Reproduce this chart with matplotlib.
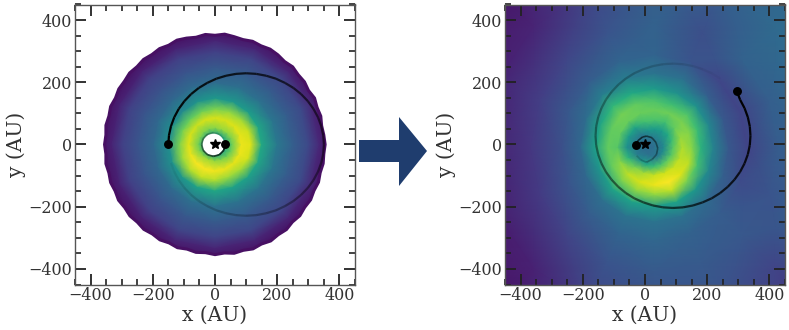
import numpy as np
import matplotlib
matplotlib.use("Agg")
import matplotlib.pyplot as plt
from matplotlib.collections import LineCollection
from matplotlib.patches import Polygon, Circle, PathPatch
from matplotlib.path import Path
from matplotlib.ticker import MultipleLocator

plt.rcParams['font.family'] = 'DejaVu Serif'

# Density on a polar table: rows by azimuth, columns by radius
azimuth_deg = [0,22.5,45,67.5,90,112.5,135,157.5,180,202.5,225,247.5,270,292.5,315,337.5]

left_center = (0, 0)
left_radii = [30,55,85,115,150,200,250,300,335,385]
left_density = [
 [.58,.78,.97,.95,.60,.40,.30,.22,.11,.02],
 [.58,.80,.96,.92,.59,.39,.29,.22,.11,.02],
 [.58,.83,.95,.86,.55,.37,.28,.21,.10,.02],
 [.58,.85,.94,.83,.53,.36,.28,.20,.10,.02],
 [.58,.83,.94,.80,.53,.35,.27,.19,.10,.02],
 [.58,.81,.94,.78,.51,.34,.26,.19,.09,.02],
 [.58,.81,.92,.76,.47,.33,.25,.19,.09,.02],
 [.58,.81,.94,.78,.49,.33,.26,.19,.09,.02],
 [.58,.79,.95,.80,.49,.33,.26,.19,.09,.02],
 [.58,.81,.97,.84,.51,.33,.26,.19,.09,.02],
 [.58,.85,.99,.88,.53,.34,.26,.19,.09,.02],
 [.58,.87,.99,.90,.57,.36,.27,.20,.10,.02],
 [.58,.85,.98,.88,.59,.38,.28,.20,.10,.02],
 [.58,.83,.97,.84,.57,.37,.28,.21,.10,.02],
 [.58,.79,.96,.86,.57,.38,.28,.21,.10,.02],
 [.58,.77,.97,.93,.59,.39,.29,.22,.11,.02],
]

right_center = (30, -10)
right_radii = [0,30,60,90,120,150,190,240,300,400,550,800]
right_density = [
 [.36,.48,.74,.88,.82,.64,.44,.27,.20,.29,.33,.33],
 [.36,.47,.68,.84,.82,.68,.46,.27,.20,.30,.36,.35],
 [.36,.46,.60,.76,.80,.73,.50,.30,.21,.31,.34,.33],
 [.36,.45,.55,.70,.78,.69,.50,.37,.26,.24,.29,.29],
 [.36,.42,.55,.72,.77,.72,.54,.38,.32,.31,.29,.28],
 [.36,.39,.52,.70,.77,.76,.60,.42,.32,.26,.20,.18],
 [.36,.37,.42,.58,.77,.79,.66,.42,.29,.21,.10,.03],
 [.36,.35,.40,.55,.76,.76,.58,.35,.27,.18,.09,.05],
 [.36,.35,.42,.50,.74,.76,.57,.33,.24,.16,.08,.05],
 [.36,.36,.42,.65,.82,.76,.52,.33,.26,.17,.08,.05],
 [.36,.37,.52,.80,.90,.80,.58,.36,.29,.20,.09,.03],
 [.36,.39,.60,.87,.94,.83,.57,.38,.32,.26,.20,.15],
 [.36,.40,.68,.92,.97,.84,.54,.38,.33,.28,.24,.22],
 [.36,.42,.72,.93,1.0,.90,.57,.37,.31,.28,.25,.22],
 [.36,.46,.76,.92,.95,.80,.52,.34,.29,.27,.20,.12],
 [.36,.48,.74,.90,.90,.70,.46,.30,.23,.26,.32,.30],
]

# Outer edge of the left disc, radius in AU every 5 degrees from +x, counter-clockwise
disc_edge_radius = [
 354,351,348,352,349,353,347,351,349,353,348,352,354,350,353,349,352,356,
 351,355,350,354,357,352,356,353,357,354,358,355,357,353,357,353,356,352,
 355,352,356,353,357,354,358,354,357,353,356,351,354,349,353,348,352,349,
 354,350,355,352,357,353,358,354,357,352,356,352,355,351,354,350,353,351,
]
hole_center = (-5, 0)
hole_radius = 35

left_orbit_x = [-150,-147.9,-141.5,-131,-116.5,-98.4,-76.8,-52.2,-25,4.3,35.3,67.4,100,132.6,164.7,195.7,225,252.2,276.8,298.4,316.5,331,341.5,347.9,350,
                347.9,341.5,331,316.5,298.4,276.8,252.2,225,195.7,164.7,132.6,100,67.4,35.3,4.3,-25,-52.2,-76.8,-98.4,-116.5,-131,-141.5]
left_orbit_y = [0,29.9,59,87.6,114.5,139.4,162,181.7,198,211.6,221,227,229,227,221,211.6,198,181.7,162,139.4,114.5,87.6,59,29.9,0,
                -29.9,-59,-87.6,-114.5,-139.4,-162,-181.7,-198,-211.6,-221,-227,-229,-227,-221,-211.6,-198,-181.7,-162,-139.4,-114.5,-87.6,-59]
left_inner_x = [33,28,14,-5,-24,-38,-43,-38,-24,-5,14,28]
left_inner_y = [0,-19,-33,-38,-33,-19,0,19,33,38,33,19]

right_orbit_x = [295,305.6,320,330.5,336.9,339,336.9,330.5,320,305.6,287.6,266,241.6,214.5,185.3,154.4,122.5,90,57.5,25.6,-5.3,-34.5,-61.6,-86,-107.6,-125.6,-140,-150.5,-156.9,-159,
                 -156.9,-150.5,-140,-125.6,-107.6,-86,-61.6,-34.5,-5.3,25.6,57.5,90,122.5,154.4,185.3,214.5,241.6]
right_orbit_y = [172,144,116.8,88,58.3,28,-2.3,-32,-60.8,-88,-113,-136,-156,-173,-186,-196,-202,-204,-202,-196,-186,-173,-156,-136,-113,-88,-60.8,-32,-2.3,28,
                 58.3,88,116.8,144,169,192,212,229,242,252,258,260,258,252,242,229,212]
right_inner_x = [-30,-22,-8,5,22,35,41,37,24,5,-13,-27]
right_inner_y = [-2,13,24,27,22,7,-12,-32,-47,-57,-50,-36]

planets_left_x = [-150, 32]
planets_left_y = [0, 0]
planets_right_x = [295, -30]
planets_right_y = [172, -2]

tick_major = 200
tick_minor = 50
limit = 450
xlabel = "x (AU)"
ylabel = "y (AU)"

W, H = 789, 330
fig = plt.figure(figsize=(W / 100, H / 100), dpi=100)
ax1 = fig.add_axes([75 / W, 1 - 284.5 / H, 280 / W, 280 / H])
ax2 = fig.add_axes([505 / W, 1 - 284.5 / H, 280 / W, 280 / H])


def polar_mesh(ax, center, radii, table):
    # Close the table in azimuth so the last wedge joins the first
    az = np.deg2rad(azimuth_deg + [360])
    vals = np.array(table + [table[0]], dtype=float)
    rr, tt = np.meshgrid(radii, az)
    return ax.pcolormesh(center[0] + rr * np.cos(tt), center[1] + rr * np.sin(tt), vals,
                         cmap='viridis', vmin=0, vmax=1, shading='gouraud', zorder=1)


def faded_line(ax, xs, ys, a0, a1, lw):
    pts = np.column_stack([xs, ys])
    segs = np.stack([pts[:-1], pts[1:]], axis=1)
    alphas = np.linspace(a0, a1, len(segs))
    colors = [(0, 0, 0, a) for a in alphas]
    ax.add_collection(LineCollection(segs, colors=colors, linewidths=lw, capstyle='butt', zorder=3))


def style(ax):
    ax.set_xlim(-limit, limit)
    ax.set_ylim(-limit, limit)
    ax.set_aspect('equal')
    for a in (ax.xaxis, ax.yaxis):
        a.set_major_locator(MultipleLocator(tick_major))
        a.set_minor_locator(MultipleLocator(tick_minor))
    ax.tick_params(which='major', direction='in', top=True, right=True, length=8,
                   width=1.3, color='#222222', labelsize=11.5, labelcolor='#333333', pad=2)
    ax.tick_params(which='minor', direction='in', top=True, right=True, length=4,
                   width=1.2, color='#222222')
    for s in ax.spines.values():
        s.set_color('#555555')
        s.set_linewidth(1.0)
    ax.set_xlabel(xlabel, fontsize=14.5, color='#333333', labelpad=1)
    ax.set_ylabel(ylabel, fontsize=14.5, color='#333333', labelpad=2)


mesh1 = polar_mesh(ax1, left_center, left_radii, left_density)
edge = np.array(disc_edge_radius, dtype=float)
th = np.deg2rad(np.arange(len(edge)) * 360 / len(edge))
outline = np.column_stack([edge * np.cos(th), edge * np.sin(th)])
disc_path = Path(np.vstack([outline, outline[0]]), closed=True)
mesh1.set_clip_path(PathPatch(disc_path, transform=ax1.transData))
ax1.add_patch(PathPatch(disc_path, fc='none', ec=plt.cm.viridis(0.04), lw=2.2, joinstyle='round', zorder=1.5))
ax1.add_patch(Circle(hole_center, hole_radius, fc='white', ec='none', zorder=2))
faded_line(ax1, left_orbit_x, left_orbit_y, 1.0, 0.05, 1.6)
faded_line(ax1, left_inner_x, left_inner_y, 0.8, 0.1, 1.3)
ax1.plot(planets_left_x, planets_left_y, 'o', color='black', ms=5.4, zorder=4)
ax1.plot([0], [0], '*', color='black', ms=7, zorder=4)
style(ax1)

polar_mesh(ax2, right_center, right_radii, right_density)
faded_line(ax2, right_orbit_x, right_orbit_y, 1.0, 0.03, 1.6)
faded_line(ax2, right_inner_x, right_inner_y, 0.7, 0.15, 1.2)
ax2.plot(planets_right_x, planets_right_y, 'o', color='black', ms=5.4, zorder=4)
ax2.plot([0], [0], '*', color='black', ms=7, zorder=4)
style(ax2)

arrow_px = [(359, 140), (399, 140), (399, 117), (427, 151), (399, 186), (399, 162), (359, 162)]
fig.add_artist(Polygon([(x / W, 1 - y / H) for x, y in arrow_px], closed=True,
                       transform=fig.transFigure, fc='#1f3d6e', ec='none'))

fig.savefig('out.png', dpi=100)
